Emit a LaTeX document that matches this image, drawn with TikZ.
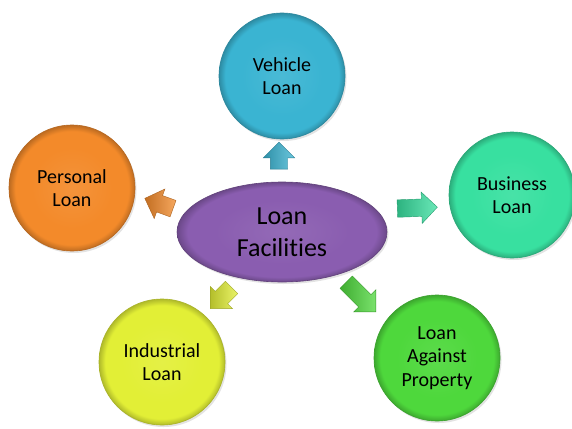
\documentclass[tikz,border=0pt]{standalone}
\usepackage{fontspec}
\setmainfont{Carlito}[Ligatures=NoCommon]
\usetikzlibrary{shapes.geometric,shapes.arrows,shadows}
\colorlet{bevelc}{white}
\pgfdeclareradialshading[bevelc]{bevel}{\pgfpoint{0bp}{0bp}}{color(0bp)=(bevelc!92!white);color(16bp)=(bevelc);color(22.5bp)=(bevelc);color(25bp)=(bevelc!78!black);color(50bp)=(bevelc!78!black)}
\definecolor{cveh}{HTML}{3AB4D2}
\definecolor{cper}{HTML}{F38A2A}
\definecolor{cbus}{HTML}{38E0A0}
\definecolor{cind}{HTML}{E2EF36}
\definecolor{clap}{HTML}{4ED83C}
\definecolor{ccen}{HTML}{8A5DB0}
\tikzset{
  bevel color/.style={/utils/exec={\colorlet{bevelc}{#1}}, shade, shading=bevel},
  bubble/.style={circle, minimum size=126pt, inner sep=0pt, align=center,
    font=\fontsize{20}{23.5}\selectfont, draw=#1!75!black, line width=0.6pt,
    bevel color=#1, drop shadow={opacity=0.22, shadow xshift=1.5pt, shadow yshift=-2pt}},
  centre/.style={ellipse, minimum width=210pt, minimum height=100pt, inner sep=0pt, align=center,
    font=\fontsize{26}{32}\selectfont, draw=#1!70!black, line width=0.6pt,
    bevel color=#1, drop shadow={opacity=0.22, shadow xshift=1.5pt, shadow yshift=-2pt}},
  blockarrow/.style 2 args={single arrow, minimum height=#2, minimum width=31pt,
    inner sep=8.5pt, single arrow head extend=7pt, draw=#1!70!black, line width=0.4pt,
    left color=#1!80!black, right color=#1!75!white}
}
\begin{document}
\begin{tikzpicture}[x=1pt,y=-1pt]
\useasboundingbox (0,0) rectangle (572,428);
\fill[white] (0,0) rectangle (572,428);
\node[centre=ccen] (cen) at (282,232) {Loan\\Facilities};
\node[bubble=cveh] (veh) at (282,76) {Vehicle\\Loan};
\node[bubble=cper] (per) at (72,188) {Personal\\Loan};
\node[bubble=cbus] (bus) at (512,195) {Business\\Loan};
\node[bubble=cind] (ind) at (162,362) {Industrial\\Loan};
\node[bubble=clap] (lap) at (437,358) {Loan\\Against\\Property};
\node[blockarrow={cveh}{27pt}, rotate=90] (a1) at (279,160) {};
\node[blockarrow={cper}{30pt}, rotate=160] (a2) at (163,205) {};
\node[blockarrow={cbus}{40pt}, rotate=2] (a3) at (413,208) {};
\node[blockarrow={cind}{30pt}, rotate=225] (a4) at (224,295) {};
\node[blockarrow={clap}{42pt}, rotate=-45] (a5) at (358,294) {};
\end{tikzpicture}
\end{document}
